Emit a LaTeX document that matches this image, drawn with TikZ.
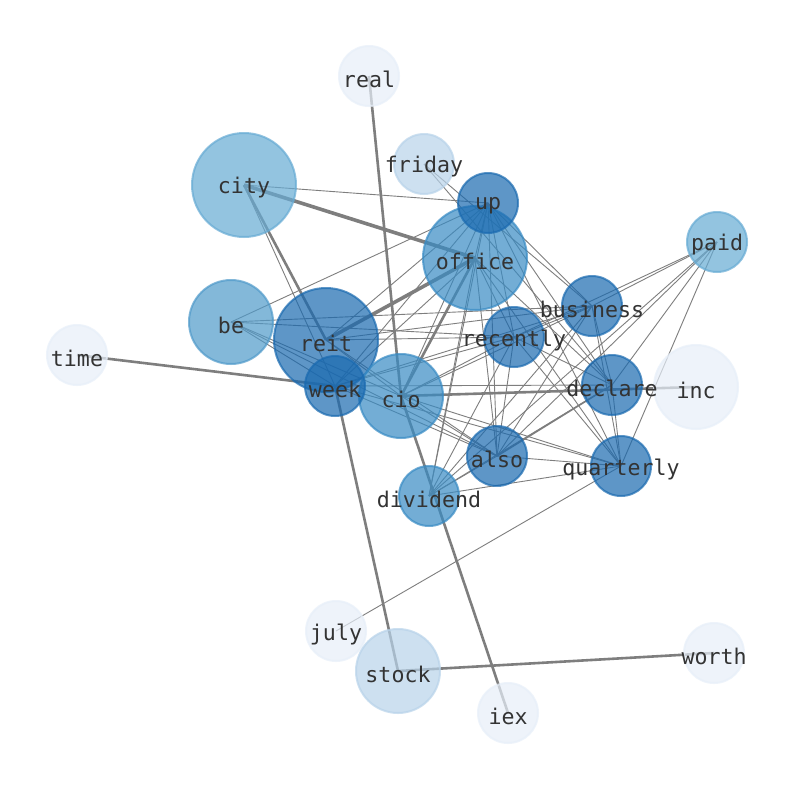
\documentclass[tikz,border=0pt]{standalone}
\usepackage{fontspec}
\setmonofont{DejaVu Sans Mono}
\pgfdeclarelayer{paper}
\pgfdeclarelayer{edges}
\pgfsetlayers{paper,edges,main}

\definecolor{wdark}{HTML}{1A6AB0}
\definecolor{wmid}{HTML}{388BC4}
\definecolor{wbe}{HTML}{4F9ACA}
\definecolor{wcity}{HTML}{66ABD4}
\definecolor{wlight}{HTML}{B8D3EA}
\definecolor{wpale}{HTML}{E7EFF9}
\definecolor{wtext}{HTML}{333333}
\definecolor{wedge}{HTML}{7E7E7E}

\tikzset{
  word/.style={circle, inner sep=0pt, line width=2pt, fill opacity=0.7, draw opacity=0.7},
  small/.style={word, minimum size=60pt},
  medium/.style={word, minimum size=84pt},
  large/.style={word, minimum size=104pt},
  tone/.style={fill=#1, draw=#1},
  wordtext/.style={text=wtext, inner sep=0pt, yshift=-3pt, font=\ttfamily\fontsize{21.6}{22}\selectfont},
  thinedge/.style={draw=wedge, line width=0.9pt},
  thickedge/.style={draw=wedge, line width=2.6pt},
  heavyedge/.style={draw=wedge, line width=3.6pt}
}

\begin{document}
\begin{tikzpicture}[x=1pt, y=-1pt]
\begin{pgfonlayer}{paper}
\fill[white] (0,0) rectangle (794,790);
\end{pgfonlayer}
\useasboundingbox (0,0) rectangle (794,790);

\node[small, tone=wpale] (real) at (369,76) {};
\node[small, tone=wlight] (friday) at (424,164) {};
\node[large, tone=wcity] (city) at (244,185) {};
\node[large, tone=wmid] (office) at (475,258) {};
\node[small, tone=wdark] (up) at (488,203) {};
\node[small, tone=wcity] (paid) at (717,242) {};
\node[medium, tone=wbe] (be) at (231,322) {};
\node[large, tone=wdark] (reit) at (326,340) {};
\node[small, tone=wdark] (business) at (592,306) {};
\node[small, tone=wdark] (recently) at (514,337) {};
\node[small, tone=wpale] (time) at (77,355) {};
\node[medium, tone=wmid] (cio) at (401,396) {};
\node[small, tone=wdark] (week) at (335,386) {};
\node[small, tone=wdark] (declare) at (612,385) {};
\node[medium, tone=wpale] (inc) at (696,387) {};
\node[small, tone=wdark] (also) at (497,456) {};
\node[small, tone=wdark] (quarterly) at (621,466) {};
\node[small, tone=wmid] (dividend) at (429,496) {};
\node[small, tone=wpale] (july) at (336,631) {};
\node[medium, tone=wlight] (stock) at (398,671) {};
\node[small, tone=wpale] (worth) at (714,653) {};
\node[small, tone=wpale] (iex) at (508,713) {};

\foreach \n in {real, friday, city, office, up, paid, be, reit, business,
    recently, time, cio, week, declare, inc, also, quarterly, dividend,
    july, stock, worth, iex}
  \node[wordtext] at (\n) {\n};

\begin{pgfonlayer}{edges}
\foreach \a/\b in {city/office, reit/office}
  \draw[heavyedge] (\a.center) -- (\b.center);
\foreach \a/\b in {time/week, real/cio, cio/iex, week/stock, stock/worth,
    city/reit, cio/office, cio/inc}
  \draw[thickedge] (\a.center) -- (\b.center);
\draw[wedge, line width=1.6pt] (also.center) -- (declare.center);
\foreach \a/\b in {city/up, city/week, be/up, be/business, be/recently,
    be/cio, be/also, be/week, up/office, up/reit, up/week, up/cio,
    up/recently, up/business, up/declare, up/also, up/quarterly,
    up/dividend, friday/declare, friday/business, office/recently,
    office/declare, office/quarterly, office/week, office/also,
    office/dividend, reit/business, reit/recently, reit/cio, reit/also,
    week/business, week/recently, week/declare, week/also,
    week/quarterly, cio/recently, cio/business, cio/also, cio/quarterly,
    recently/also, recently/declare, recently/quarterly,
    recently/dividend, recently/business, business/declare,
    business/quarterly, business/also, business/dividend,
    declare/quarterly, declare/dividend, also/quarterly, also/dividend,
    quarterly/dividend, quarterly/july, paid/business, paid/recently,
    paid/declare, paid/quarterly, paid/also, paid/dividend}
  \draw[thinedge] (\a.center) -- (\b.center);
\end{pgfonlayer}
\end{tikzpicture}
\end{document}
